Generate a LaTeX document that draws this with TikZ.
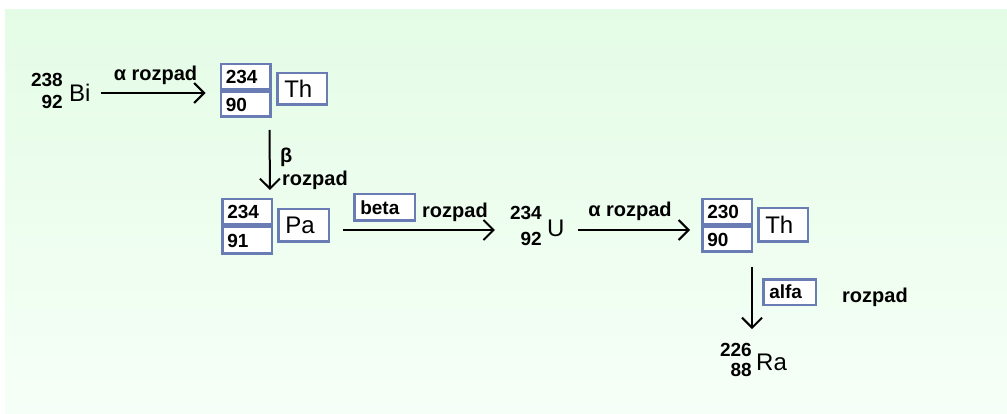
\documentclass[tikz,border=0pt]{standalone}
\usepackage{fontspec}
\setmainfont{Liberation Sans}
\usetikzlibrary{arrows.meta,calc}
\definecolor{boxblue}{RGB}{105,125,180}
\definecolor{bgtop}{RGB}{228,252,230}
\definecolor{bgbot}{RGB}{246,255,247}
\begin{document}
\begin{tikzpicture}[x=1pt,y=-1pt,
  lbl/.style={font=\fontsize{20}{24}\selectfont\bfseries, inner sep=0pt},
  num/.style={font=\fontsize{19}{22}\selectfont\bfseries, inner sep=0pt},
  sym/.style={font=\fontsize{24}{28}\selectfont, inner sep=0pt},
  frame/.style={draw=boxblue, line width=2.5pt, fill=white},
  nbox/.style={frame, inner ysep=0pt, inner xsep=5pt, text width=39.5pt,
    align=left, font=\fontsize{19}{22}\selectfont\bfseries},
  ebox/.style={frame, inner ysep=0pt, inner xsep=7pt, text width=#1,
    align=left, font=\fontsize{24}{28}\selectfont},
  tbox/.style={frame, inner ysep=0pt, inner xsep=6pt, text width=#1,
    align=left, font=\fontsize{19}{22}\selectfont\bfseries},
  arr/.style={-{Straight Barb[length=10pt,width=20pt]}, line width=2pt}
]
\useasboundingbox (0,0) rectangle (1007,414);
\shade[top color=bgtop, bottom color=bgbot] (5,10) rectangle (1007,414);

% Bi-238
\node[num, anchor=east] (bi238) at (63,80) {238};
\node[num, anchor=east] (bi92) at (63,102) {92};
\node[sym, anchor=west] (bi) at (69,93) {Bi};

% Th-234
\node[nbox, minimum height=25.5pt] (th1top) at (245.5,77) {234};
\node[nbox, minimum height=24.5pt] (th1bot) at (245.5,104.5) {90};
\node[ebox=35.5pt, minimum height=31.5pt] (th1) at (302,89) {Th};

% Pa-234
\node[nbox, minimum height=25.5pt] (patop) at (247,212) {234};
\node[nbox, minimum height=26.5pt] (pabot) at (247,240.5) {91};
\node[ebox=36.5pt, minimum height=32.5pt] (pa) at (303.5,225.5) {Pa};

% U-234
\node[num, anchor=east] (u234) at (542,213) {234};
\node[num, anchor=east] (u92) at (542,239) {92};
\node[sym, anchor=west] (u) at (547,228) {U};

% Th-230
\node[nbox, minimum height=25.5pt] (th2top) at (727,212) {230};
\node[nbox, minimum height=24.5pt] (th2bot) at (727,239.5) {90};
\node[ebox=35.5pt, minimum height=33.5pt] (th2) at (783,225) {Th};

% Ra-226
\node[num, anchor=east] (ra226) at (752,350) {226};
\node[num, anchor=east] (ra88) at (752,370) {88};
\node[sym, anchor=west] (ra) at (756,362) {Ra};

% decay arrows
\draw[arr] ($(bi.east)+(10,0)$) -- ($(th1top.south west)+(-14,2)$);
\draw[arr] ($(th1bot.south east)+(-2,12)$) -- ($(patop.north east)+(-3,-8)$);
\draw[arr] ($(pa.east)+(13,4.5)$) -- ($(u234.west)+(-15,17)$);
\draw[arr] ($(u.east)+(13,2)$) -- ($(th2top.south west)+(-11,4)$);
\draw[arr] ($(th2bot.south east)+(-1,14)$) -- ($(ra226.north east)+(0,-14)$);

% arrow labels
\node[lbl] (l1) at (155.5,75) {α rozpad};
\node[lbl, anchor=west] (l2a) at (280,157) {β};
\node[lbl, anchor=west] (l2b) at (282,180) {rozpad};
\node[tbox=48.5pt, minimum height=26.5pt] (betabox) at (384.5,207.5) {beta};
\node[lbl, anchor=west] (l3) at (422,212) {rozpad};
\node[lbl] (l4) at (630,211) {α rozpad};
\node[tbox=40.5pt, minimum height=25.5pt] (alfabox) at (789.5,292) {alfa};
\node[lbl, anchor=west] (l5) at (842,297) {rozpad};
\end{tikzpicture}
\end{document}
